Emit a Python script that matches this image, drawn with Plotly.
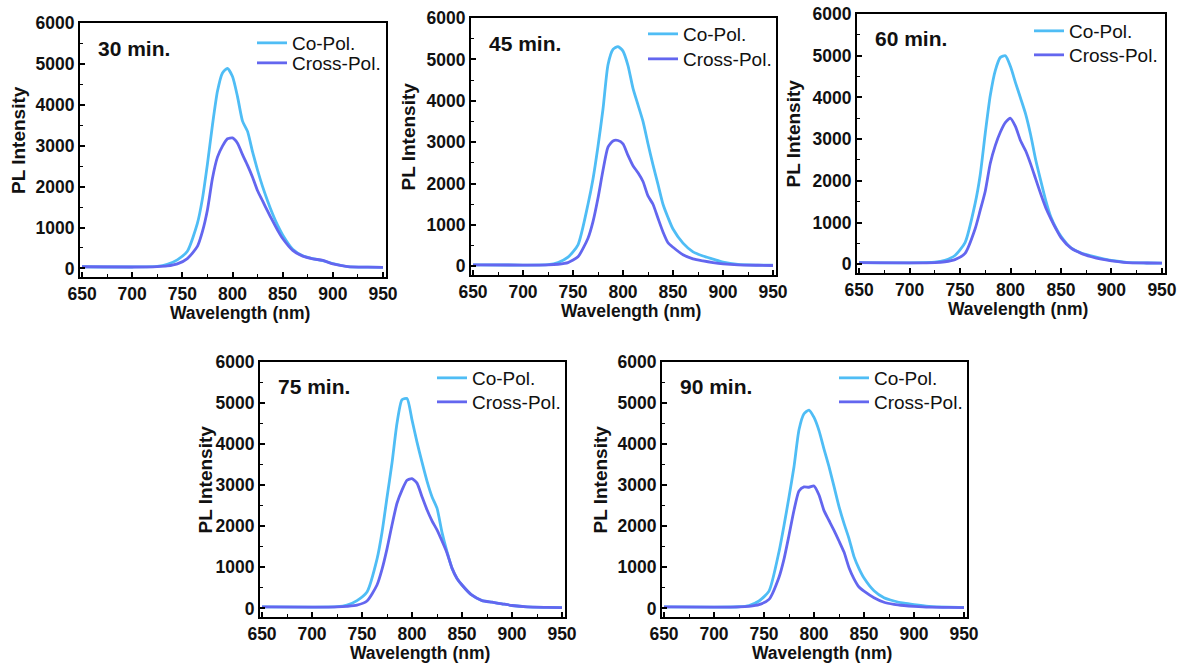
import plotly.graph_objects as go

# Emission wavelength grid (nm) shared by all spectra
wavelength = [650, 700, 725, 735, 745, 755, 765, 770, 775, 780, 785, 790, 795, 800,
              805, 810, 815, 820, 825, 830, 835, 840, 845, 850, 860, 870, 880, 890,
              900, 915, 935, 950]

# PL intensity, co-polarized and cross-polarized detection, per annealing time
co_30 = [40, 35, 50, 100, 210, 420, 1100, 1700, 2550, 3500, 4330, 4780, 4890, 4690,
         4200, 3600, 3350, 2850, 2400, 2000, 1650, 1330, 1050, 820, 470, 310, 240, 190,
         120, 45, 30, 25]
cross_30 = [40, 35, 45, 60, 110, 240, 540, 900, 1430, 2200, 2720, 2990, 3170, 3190,
            3060, 2780, 2520, 2230, 1900, 1650, 1400, 1160, 930, 730, 440, 300, 235, 195,
            110, 45, 30, 25]

co_45 = [35, 30, 40, 90, 220, 520, 1500, 2110, 2900, 3800, 4870, 5240, 5310, 5200,
         4850, 4300, 3900, 3500, 2960, 2450, 1980, 1500, 1180, 900, 560, 350, 250, 175,
         100, 45, 30, 25]
cross_45 = [35, 30, 35, 50, 90, 230, 680, 1080, 1650, 2320, 2880, 3030, 3040, 2960,
            2680, 2430, 2260, 2050, 1700, 1500, 1160, 830, 570, 460, 280, 180, 130, 90,
            60, 35, 25, 20]

co_60 = [40, 35, 50, 95, 210, 520, 1460, 2140, 3140, 4050, 4650, 4960, 5000, 4740,
         4350, 3980, 3600, 3100, 2500, 2000, 1520, 1130, 870, 670, 390, 270, 200, 140,
         90, 45, 30, 25]
cross_60 = [40, 35, 40, 60, 110, 260, 850, 1290, 1750, 2420, 2850, 3170, 3400, 3500,
            3300, 2960, 2720, 2400, 2040, 1680, 1350, 1090, 850, 640, 384, 260, 180, 120,
            80, 40, 30, 25]

co_75 = [35, 30, 40, 80, 190, 400, 1200, 1850, 2700, 3540, 4510, 5080, 5110, 4590,
         4050, 3560, 3100, 2720, 2440, 1850, 1380, 980, 730, 570, 320, 190, 150, 110,
         70, 35, 25, 20]
cross_75 = [35, 30, 35, 50, 80, 180, 570, 950, 1450, 2030, 2560, 2880, 3120, 3160,
            3050, 2720, 2400, 2130, 1910, 1640, 1350, 980, 730, 570, 320, 190, 150, 110,
            70, 35, 25, 20]

co_90 = [35, 30, 40, 70, 180, 420, 1380, 2020, 2710, 3450, 4350, 4740, 4830, 4650,
         4330, 3880, 3450, 2970, 2480, 2070, 1700, 1260, 970, 740, 430, 260, 180, 125,
         90, 50, 30, 25]
cross_90 = [35, 30, 35, 50, 90, 220, 760, 1200, 1780, 2390, 2860, 2960, 2950, 2980,
            2760, 2380, 2140, 1900, 1640, 1370, 990, 720, 520, 420, 260, 150, 100, 70,
            50, 30, 25, 20]

panel_labels = ["30 min.", "45 min.", "60 min.", "75 min.", "90 min."]
co_series = [co_30, co_45, co_60, co_75, co_90]
cross_series = [cross_30, cross_45, cross_60, cross_75, cross_90]

x_ticks = [650, 700, 750, 800, 850, 900, 950]
y_ticks = [0, 1000, 2000, 3000, 4000, 5000, 6000]

CO_COLOR = "#4fbdf5"
CROSS_COLOR = "#6366ef"
FONT = "Arial, 'Liberation Sans', sans-serif"

W, H = 1183, 666
# plot boxes in pixels: left, right, top, bottom
boxes = [
    (80, 386, 23, 277),
    (471, 776, 18, 275),
    (857, 1165, 14, 273),
    (260, 565, 362, 617),
    (662, 967, 362, 617),
]
ytitle_offset = [62, 63, 64, 55, 62]
# vertical centre (px) of the two legend rows in each panel
legend_rows = [(43, 63), (34, 59), (31, 55), (378, 402), (378, 402)]

fig = go.Figure()
annotations = []

for i, (label, co, cross, box) in enumerate(zip(panel_labels, co_series, cross_series, boxes)):
    n = "" if i == 0 else str(i + 1)
    leg_co = "legend" + ("" if i == 0 else str(2 * i + 1))
    leg_cross = "legend" + str(2 * i + 2)
    fig.add_trace(go.Scatter(
        x=wavelength, y=co, name="Co-Pol.", mode="lines",
        line=dict(color=CO_COLOR, width=2.8, shape="spline", smoothing=0.6),
        xaxis="x" + n, yaxis="y" + n, legend=leg_co))
    fig.add_trace(go.Scatter(
        x=wavelength, y=cross, name="Cross-Pol.", mode="lines",
        line=dict(color=CROSS_COLOR, width=2.8, shape="spline", smoothing=0.6),
        xaxis="x" + n, yaxis="y" + n, legend=leg_cross))

    l, r, t, b = box
    xd = [l / W, r / W]
    yd = [1 - b / H, 1 - t / H]
    axis_common = dict(
        showline=True, linecolor="black", linewidth=2, mirror=True,
        ticks="inside", ticklen=5, tickwidth=1.5, tickcolor="black",
        showgrid=False, zeroline=False, automargin=False,
        tickfont=dict(family=FONT, size=17.5, color="#111", weight="bold"),
    )
    legend_common = dict(
        x=(l + 172) / W, xanchor="left", yanchor="middle",
        bgcolor="rgba(0,0,0,0)", borderwidth=0,
        font=dict(family=FONT, size=19, color="#111"),
    )
    fig.update_layout(**{
        "xaxis" + n: dict(domain=xd, anchor="y" + n, range=[648, 953],
                          tickmode="array", tickvals=x_ticks,
                          minor=dict(ticks="inside", ticklen=3, tickwidth=1.2,
                                     tickcolor="black", dtick=25, tick0=650),
                          **axis_common),
        "yaxis" + n: dict(domain=yd, anchor="x" + n, range=[-210, 6000],
                          tickmode="array", tickvals=y_ticks,
                          minor=dict(ticks="inside", ticklen=3, tickwidth=1.2,
                                     tickcolor="black", dtick=500, tick0=0),
                          **axis_common),
        leg_co: dict(y=1 - legend_rows[i][0] / H, **legend_common),
        leg_cross: dict(y=1 - legend_rows[i][1] / H, **legend_common),
    })

    annotations.append(dict(
        text=label, xref="paper", yref="paper", x=(l + 16) / W, y=1 - (t + 25) / H,
        xanchor="left", yanchor="middle", showarrow=False,
        font=dict(family=FONT, size=21, color="#111", weight="bold")))
    annotations.append(dict(
        text="Wavelength (nm)", xref="paper", yref="paper",
        x=((l + r) / 2 + 7) / W, y=1 - (b + 36) / H,
        xanchor="center", yanchor="middle", showarrow=False,
        font=dict(family=FONT, size=17.5, color="#111", weight="bold")))
    annotations.append(dict(
        text="PL Intensity", xref="paper", yref="paper",
        x=(l - ytitle_offset[i]) / W, y=1 - ((t + b) / 2 - 10) / H,
        xanchor="center", yanchor="middle", showarrow=False, textangle=-90,
        font=dict(family=FONT, size=19, color="#111", weight="bold")))

fig.update_layout(
    width=W, height=H,
    margin=dict(l=0, r=0, t=0, b=0, autoexpand=False),
    paper_bgcolor="white", plot_bgcolor="white",
    annotations=annotations,
    showlegend=True,
)

fig.write_html("out.html")
